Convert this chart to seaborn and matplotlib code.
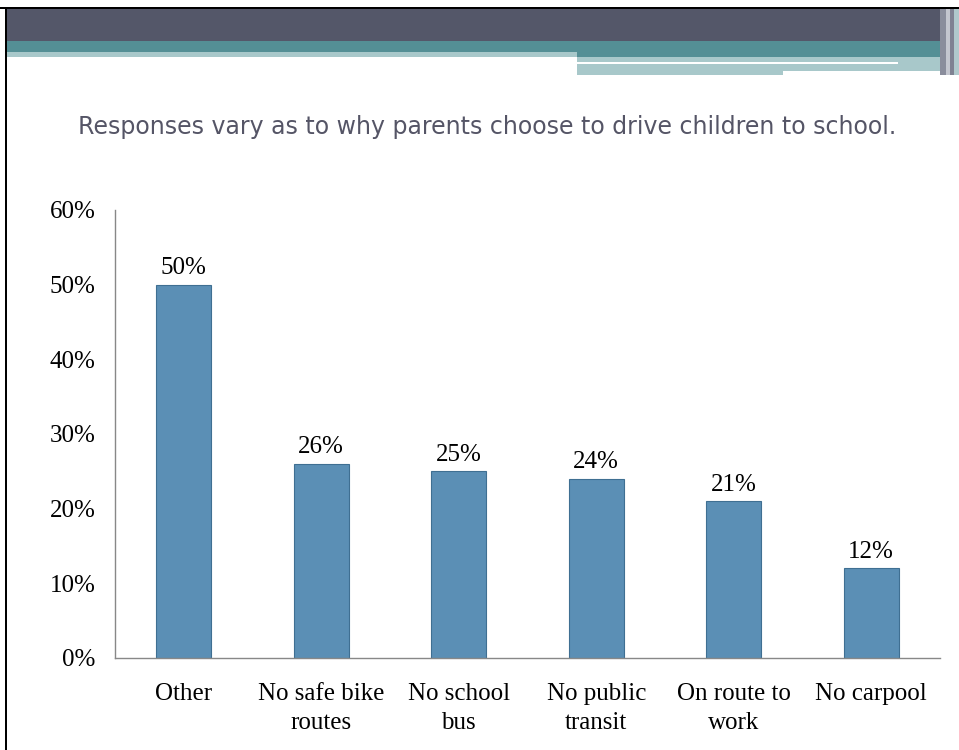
import matplotlib
matplotlib.use('Agg')
import matplotlib.pyplot as plt
import seaborn as sns
import pandas as pd
from matplotlib.patches import Rectangle
from matplotlib.ticker import FixedLocator, PercentFormatter

categories = ['Other', 'No safe bike\nroutes', 'No school\nbus', 'No public\ntransit',
              'On route to\nwork', 'No carpool']
values = [50, 26, 25, 24, 21, 12]
title = 'Responses vary as to why parents choose to drive children to school.'

sns.set_style('white')
plt.rcParams['font.family'] = ['Liberation Serif', 'DejaVu Serif']

W, H = 959, 750
fig = plt.figure(figsize=(W / 100, H / 100), dpi=100)


def band(x0, y0, x1, y1, color):
    # pixel coords (top-left origin) -> figure fraction
    fig.patches.append(Rectangle((x0 / W, 1 - y1 / H), (x1 - x0) / W, (y1 - y0) / H,
                                 transform=fig.transFigure, color=color, lw=0, zorder=0))


# slide header decoration
band(0, 7, W, 9, '#000000')
band(5, 9, W, 41, '#545769')
band(5, 41, W, 52, '#548F95')
band(5, 52, 577, 57, '#A8C8CA')
band(577, 52, 940, 57, '#548F95')
band(577, 57, 940, 75, '#A8C8CA')
band(577, 62, 898, 64, '#FFFFFF')
band(783, 71, 940, 75, '#FFFFFF')
band(940, 9, 946, 75, '#8A8D9C')
band(946, 9, 950, 75, '#C4C6CF')
band(950, 9, 954, 75, '#7F8292')
band(954, 9, W, 75, '#B0C9CC')
band(5, 7, 7, H, '#000000')

fig.text(487 / W, 1 - 127 / H, title, ha='center', va='center',
         fontsize=17, color='#555566', family=['Trebuchet MS', 'DejaVu Sans'])

ax = fig.add_axes([115 / W, 1 - 658 / H, (940 - 115) / W, (658 - 210) / H])
df = pd.DataFrame({'reason': categories, 'pct': values})
sns.barplot(data=df, x='reason', y='pct', ax=ax, color='#5B8FB5', width=0.4,
            edgecolor='#3F6F92', linewidth=0.8, saturation=1)

ax.set_ylim(0, 60)
ax.set_xlim(-0.5, len(categories) - 0.5)
ax.yaxis.set_major_locator(FixedLocator(range(0, 61, 10)))
ax.yaxis.set_major_formatter(PercentFormatter(decimals=0))
ax.set_xlabel('')
ax.set_ylabel('')

for c in ax.containers:
    ax.bar_label(c, labels=[f'{v}%' for v in values], padding=4, fontsize=18, color='black')

# category ticks between bars, labels centred without ticks
ax.set_xticks(range(len(categories)))
ax.set_xticklabels(categories, fontsize=18, linespacing=1.4, color='black')
ax.tick_params(axis='x', which='major', length=0, pad=18)
ax.set_xticks([i - 0.5 for i in range(len(categories) + 1)], minor=True)
ax.tick_params(axis='x', which='minor', length=7, color='#888888', width=1)
ax.tick_params(axis='y', length=5, color='#888888', width=1, labelsize=18, pad=9,
               labelcolor='black')

for s in ['top', 'right']:
    ax.spines[s].set_visible(False)
for s in ['left', 'bottom']:
    ax.spines[s].set_color('#888888')
    ax.spines[s].set_linewidth(1)

fig.savefig('out.png', dpi=100)
